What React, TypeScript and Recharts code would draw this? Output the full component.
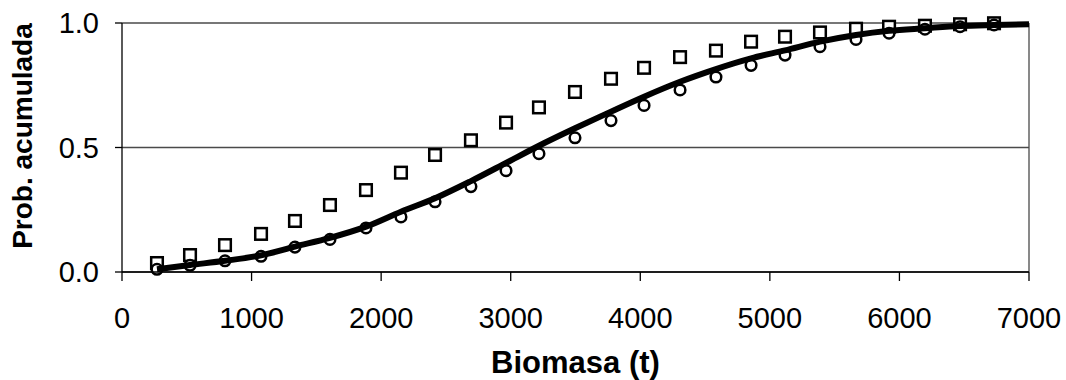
import { ComposedChart, Scatter, Line, XAxis, YAxis, CartesianGrid, ReferenceLine } from 'recharts';

// biomass values (t) where the observed points sit
const biomasa = [
  270, 525, 795, 1073, 1335, 1605, 1883, 2153, 2416, 2693, 2964, 3218, 3496,
  3774, 4029, 4307, 4584, 4855, 5117, 5387, 5665, 5920, 6197, 6468, 6730,
];

// squares
const probCuadrados = [
  0.036, 0.068, 0.108, 0.153, 0.205, 0.269, 0.329, 0.399, 0.47, 0.529, 0.6, 0.661, 0.723,
  0.776, 0.82, 0.863, 0.889, 0.925, 0.945, 0.962, 0.977, 0.985, 0.989, 0.995, 0.999,
];

// circles
const probCirculos = [
  0.011, 0.027, 0.045, 0.063, 0.1, 0.131, 0.177, 0.221, 0.282, 0.343, 0.407, 0.475, 0.539,
  0.608, 0.669, 0.731, 0.783, 0.83, 0.871, 0.905, 0.934, 0.959, 0.975, 0.985, 0.992,
];

// fitted curve
const curvaX = [
  270, 525, 795, 1073, 1335, 1605, 1883, 2153, 2416, 2693, 2964, 3218, 3496,
  3774, 4029, 4307, 4584, 4855, 5117, 5387, 5665, 5920, 6197, 6468, 6730, 7000,
];
const curvaY = [
  0.011, 0.028, 0.045, 0.067, 0.102, 0.137, 0.182, 0.242, 0.296, 0.365, 0.438, 0.507, 0.577,
  0.644, 0.704, 0.764, 0.815, 0.858, 0.89, 0.925, 0.952, 0.969, 0.979, 0.988, 0.992, 0.995,
];

const xTicks = [0, 1000, 2000, 3000, 4000, 5000, 6000, 7000];
const yTicks = [0, 0.5, 1];

const cuadrados = biomasa.map((x, i) => ({ x, y: probCuadrados[i] }));
const circulos = biomasa.map((x, i) => ({ x, y: probCirculos[i] }));
const curva = curvaX.map((x, i) => ({ x, y: curvaY[i] }));

const FONT = '"Liberation Sans", Arial, sans-serif';
const GRID = '#4a4a4a';

const Square = (props: any) => (
  <rect x={props.cx - 5.8} y={props.cy - 5.8} width={11.6} height={11.6} fill="#fff" stroke="#000" strokeWidth={2.5} />
);

const Circle = (props: any) => (
  <circle cx={props.cx} cy={props.cy} r={5.3} fill="#fff" stroke="#000" strokeWidth={2.5} />
);

export default function App() {
  return (
    <div style={{ position: 'absolute', left: 0, top: 0, width: 1066, height: 380, background: '#fff' }}>
      <ComposedChart width={1066} height={380} margin={{ top: 23, right: 37, bottom: 0, left: 0 }}>
        <CartesianGrid horizontal vertical={false} stroke={GRID} strokeWidth={1.3} />
        <XAxis
          type="number"
          dataKey="x"
          domain={[0, 7000]}
          ticks={xTicks}
          interval={0}
          height={108}
          tickSize={9}
          tickMargin={26}
          axisLine={{ stroke: '#000', strokeWidth: 1.3 }}
          tickLine={{ stroke: '#000', strokeWidth: 1.3 }}
          tick={{ fill: '#000', fontSize: 29, fontFamily: FONT }}
          label={{
            value: 'Biomasa (t)',
            position: 'insideBottom',
            offset: 7,
            style: { fill: '#000', fontSize: 31, fontWeight: 'bold', fontFamily: FONT },
          }}
        />
        <YAxis
          type="number"
          dataKey="y"
          domain={[0, 1]}
          ticks={yTicks}
          interval={0}
          width={122}
          tickSize={7}
          tickMargin={16}
          tickFormatter={(v: number) => v.toFixed(1)}
          axisLine={{ stroke: '#000', strokeWidth: 1.3 }}
          tickLine={{ stroke: '#000', strokeWidth: 1.3 }}
          tick={{ fill: '#000', fontSize: 29, fontFamily: FONT }}
          label={{
            content: () => (
              <text
                x={22}
                y={136}
                transform="rotate(-90 22 136)"
                textAnchor="middle"
                dominantBaseline="central"
                fill="#000"
                fontSize={28}
                fontWeight="bold"
                fontFamily={FONT}
              >
                Prob. acumulada
              </text>
            ),
          }}
        />
        <ReferenceLine x={7000} stroke={GRID} strokeWidth={1.3} />
        <Scatter data={cuadrados} dataKey="y" shape={Square} isAnimationActive={false} zIndex={300} />
        <Scatter data={circulos} dataKey="y" shape={Circle} isAnimationActive={false} zIndex={300} />
        <Line
          data={curva}
          dataKey="y"
          type="monotone"
          stroke="#000"
          strokeWidth={6}
          dot={false}
          activeDot={false}
          isAnimationActive={false}
          zIndex={700}
        />
      </ComposedChart>
    </div>
  );
}
